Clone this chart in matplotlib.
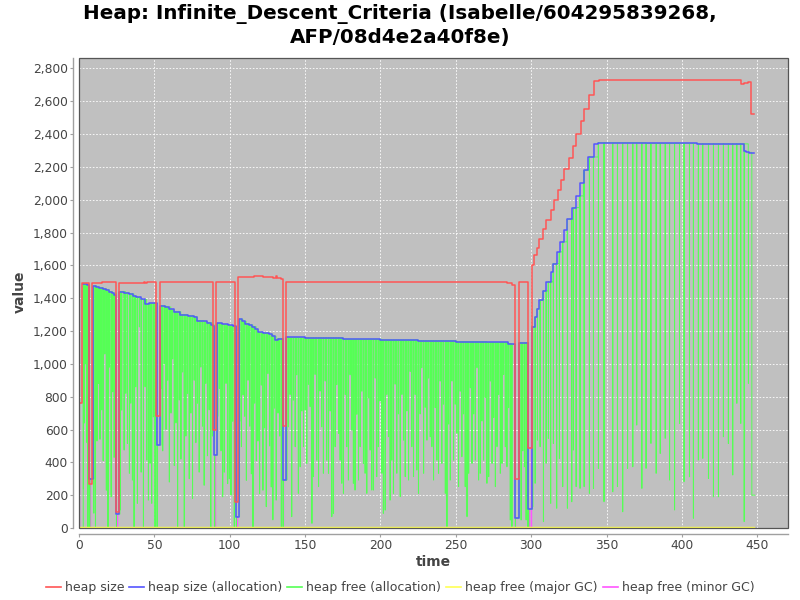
import numpy as np
import matplotlib
matplotlib.use("Agg")
import matplotlib.pyplot as plt
from matplotlib.ticker import FuncFormatter, MultipleLocator
from matplotlib.patches import Rectangle
from matplotlib.lines import Line2D

plt.rcParams['font.family'] = ['DejaVu Sans']

# ---------------- data ----------------
title = "Heap: Infinite_Descent_Criteria (Isabelle/604295839268,\nAFP/08d4e2a40f8e)"
labels = ["heap size", "heap size (allocation)", "heap free (allocation)",
          "heap free (major GC)", "heap free (minor GC)"]
colors = ["#ff5555", "#5555ff", "#55ff55", "#ffff55", "#ff55ff"]

# heap size (step series)
heap_t = [0.3, 2.2, 4.0, 6.9, 8.9, 15.0, 24.4, 26.5, 43.0, 44.0, 45.0, 51.2, 53.6, 66.0, 67.0,
          89.2, 91.0, 103.8, 105.8, 110.0, 116.0, 122.0, 126.0, 129.0, 130.5, 131.5, 134.0,
          135.3, 137.4, 282.0, 284.0, 287.6, 289.3, 291.6, 298.2, 300.4, 302.0, 304.0, 305.5,
          308.0, 310.0, 313.0, 315.0, 318.0, 319.5, 322.0, 325.0, 328.0, 330.0, 333.0, 335.0,
          338.5, 341.5, 345.0, 439.3, 441.5, 444.0, 445.8, 448.0]
heap_v = [760, 1490, 1493, 270, 1495, 1497, 100, 1495, 1500, 1492, 1498, 680, 1500, 1496, 1500,
          600, 1500, 160, 1528, 1532, 1535, 1532, 1527, 1522, 1535, 1520, 1515,
          620, 1500, 1499, 1490, 1478, 300, 1500, 487, 1601, 1661, 1706, 1763,
          1820, 1875, 1936, 1996, 2057, 2122, 2189, 2256, 2327, 2402, 2479, 2554,
          2635, 2721, 2727, 2707, 2711, 2718, 2524, 2524]

# heap size (allocation) (step series)
alloc_t = [2.4, 4.0, 5.5, 6.9, 9.2, 11.0, 13.0, 16.0, 18.0, 20.0, 22.0, 23.5, 24.6, 26.6, 30.0,
           33.0, 35.5, 38.0, 41.0, 44.0, 46.5, 51.6, 53.8, 57.0, 60.0, 63.0, 67.0, 72.0, 76.0,
           78.0, 82.0, 85.0, 87.5, 89.0, 89.8, 91.4, 95.0, 99.0, 102.0, 104.2, 105.9, 108.0,
           110.0, 112.5, 115.0, 117.0, 118.5, 122.0, 126.0, 128.0, 130.0, 132.0, 135.2, 137.3,
           150.0, 175.0, 200.0, 225.0, 250.0, 270.0, 284.5, 287.0, 289.3, 291.6, 298.1, 300.4,
           302.5, 304.0, 305.5, 308.0, 310.0, 313.0, 314.5, 317.0, 319.0, 321.5, 324.0, 327.0,
           330.0, 332.5, 335.0, 338.0, 341.5, 344.5, 375.0, 410.0, 441.5, 442.5, 444.5, 448.0]
alloc_v = [1489, 1486, 1480, 300, 1474, 1468, 1463, 1458, 1450, 1440, 1430, 1422, 85, 1440, 1433,
           1426, 1412, 1405, 1392, 1362, 1368, 505, 1353, 1346, 1331, 1318, 1300, 1292, 1286,
           1262, 1258, 1250, 1236, 1228, 444, 1248, 1240, 1234, 1228, 69, 1272, 1258,
           1245, 1237, 1226, 1212, 1192, 1187, 1180, 1168, 1148, 1152, 292, 1161,
           1158, 1150, 1145, 1140, 1135, 1131, 1122, 1118, 60, 1128, 115, 1225,
           1286, 1337, 1387, 1444, 1499, 1560, 1611, 1682, 1743, 1814, 1881, 1952,
           2023, 2102, 2179, 2260, 2337, 2347, 2343, 2340, 2294, 2288, 2284, 2284]

# heap free (allocation): times of the dips and their lowest values
free_t = [2.9, 3.6, 4.4, 5.2, 5.9, 7.1,
          9.8, 10.9, 11.9, 12.9, 13.9, 15.0, 16.0, 17.1, 18.1, 19.2, 20.2, 21.3, 22.3, 23.3, 24.8,
          27.2, 28.3, 29.9, 31.0, 32.1, 33.4, 34.3, 35.4, 36.5, 37.6, 38.7, 40.0, 41.2, 42.7,
          43.8, 44.9, 46.0, 47.1, 48.2, 49.3, 50.4, 51.8,
          54.5, 55.5, 56.6, 57.7, 58.8, 59.9, 61.0, 62.1, 63.2, 64.3, 65.4, 66.5, 67.6, 68.7,
          69.8, 70.9, 72.0, 73.1, 74.2, 75.3, 76.4, 77.5, 78.6, 79.7, 80.8, 81.9, 83.0, 84.1,
          85.2, 86.3, 87.4, 88.5, 90.0,
          92.0, 93.1, 94.2, 95.3, 96.4, 97.5, 98.6, 99.7, 100.8, 101.9, 103.0, 104.4,
          106.6, 107.7, 108.8, 109.9, 111.0, 112.1, 113.2, 114.3, 115.4, 116.5, 117.6, 118.7,
          119.8, 120.9, 122.0, 123.1, 124.2, 125.3, 126.4, 127.5, 128.6, 129.7, 130.8, 132.0,
          133.1, 134.2, 135.4,
          137.8, 138.9, 140.0, 141.1, 142.2, 143.4, 144.4, 145.5, 146.7, 147.8,
          148.9, 150.0, 151.1, 152.2, 153.3, 154.5, 155.5, 156.6, 157.7, 158.9,
          159.9, 161.0, 162.1, 163.3, 164.3, 165.5, 166.6, 167.7, 168.8, 169.9,
          171.0, 172.2, 173.2, 174.3, 175.4, 176.6, 177.6, 178.7, 179.8, 181.0,
          182.0, 183.1, 184.3, 185.4, 186.5, 187.6, 188.7, 189.8, 190.9, 192.1,
          193.1, 194.2, 195.3, 196.5, 197.5, 198.6, 199.7, 200.9, 201.9, 203.1,
          204.2, 205.3, 206.4,
          207.5, 208.6, 209.7, 210.8, 211.9, 213.1, 214.2, 215.3, 216.4, 217.5,
          218.6, 219.7, 220.8, 221.9, 223.0, 224.1, 225.2, 226.3, 227.4, 228.6,
          229.7, 230.8, 231.9, 233.0, 234.1, 235.2, 236.3, 237.4, 238.5, 239.6,
          240.7, 241.8, 243.0, 244.1, 245.2, 246.3, 247.4, 248.5, 249.6, 250.7,
          251.8, 252.9, 254.0, 255.1, 256.2, 257.4, 258.5, 259.6, 260.7, 261.8,
          262.9, 264.0, 265.1, 266.2, 267.3, 268.4, 269.5, 270.6, 271.8, 272.9,
          274.0, 275.1, 276.2, 277.3, 278.4, 279.5, 280.6, 281.7, 282.8, 283.9,
          285.0, 286.1, 287.2, 289.5,
          292.0, 293.3, 294.4, 295.5, 296.6, 297.7, 298.3,
          301.0, 302.6, 304.1, 305.9, 308.1, 309.9, 311.4, 312.9, 314.7, 316.9, 318.7,
          320.9, 324.0, 326.9, 328.0, 329.8, 332.4, 335.1, 338.6, 341.3, 344.6,
          348.3, 354.1, 357.2, 360.7, 363.9, 367.4, 370.0, 373.4, 376.2, 379.4, 382.9,
          385.6, 388.9, 391.8, 395.1, 398.4, 401.4, 405.0, 407.6, 410.9, 413.8, 417.6,
          420.9, 424.2, 427.5, 430.8, 433.7, 436.4, 439.0, 441.3, 444.1, 446.4]
free_low = [240, 640, 1000, 520, 0, 0,
            90, 0, 530, 880, 540, 720, 410, 1060, 230, 0, 980, 190, 830, 430, 0,
            110, 718, 475, 820, 515, 333, 760, 292, 0, 860, 150, 1225, 340, 0,
            860, 414, 170, 394, 150, 677, 0, 0,
            850, 470, 1000, 600, 900, 280, 700, 1030, 380, 640, 0, 780, 420, 950,
            0, 560, 820, 300, 700, 180, 900, 520, 760, 340, 980, 620, 260, 880,
            440, 720, 0, 560, 0,
            680, 850, 470, 190, 340, 880, 270, 300, 200, 650, 0, 0,
            650, 495, 810, 680, 290, 900, 620, 330, 0, 760, 410, 530,
            210, 870, 230, 610, 130, 940, 500, 250, 50, 730, 170, 700,
            560, 0, 0,
            292, 616, 813, 69, 779, 495, 933, 211, 373, 713,
            495, 718, 393, 875, 739, 28, 313, 935, 413, 252,
            834, 616, 333, 895, 413, 333, 713, 69, 89, 495,
            873, 576, 413, 272, 211, 813, 495, 292, 933, 596,
            272, 231, 692, 292, 495, 833, 393, 333, 211, 792,
            475, 231, 231, 913, 313, 495, 773, 333, 89, 109,
            813, 556, 170,
            413, 211, 876, 333, 695, 191, 813, 535, 313, 713,
            292, 953, 495, 313, 813, 353, 211, 695, 976, 333,
            735, 535, 913, 556, 495, 292, 733, 413, 333, 895,
            393, 754, 211, 8, 633, 292, 895, 413, 754, 576,
            252, 833, 434, 695, 252, 69, 333, 854, 393, 695,
            413, 976, 292, 333, 652, 413, 795, 272, 313, 895,
            393, 673, 252, 495, 813, 333, 393, 935, 495, 373,
            733, 49, 8, 0,
            454, 49, 470, 373, 49, 8, 0,
            130, 272, 535, 495, 39, 394, 546, 150, 515, 120, 424,
            252, 120, 160, 475, 252, 241, 252, 211, 241, 363,
            160, 221, 252, 99, 363, 373, 627, 241, 363, 515, 333,
            454, 546, 292, 110, 637, 282, 312, 59, 414, 424, 302,
            190, 190, 556, 515, 323, 759, 637, 39, 881, 200]
free_start = (1.8, 0)
free_end = (448.3, 200)

# heap free (major GC)
major_t = [0.0, 448.0]
major_v = [7, 7]

# heap free (minor GC): short marks at the collapses
minor_t = [0.2, 0.2, np.nan, 7.0, 7.0, np.nan, 25.0, 25.0, np.nan, 90.2, 90.2, np.nan,
           104.5, 104.5, np.nan, 135.5, 135.5, np.nan, 289.5, 289.5, np.nan,
           298.5, 298.5, np.nan, 300.2, 300.2]
minor_v = [0, 640, np.nan, 0, 300, np.nan, 0, 90, np.nan, 0, 444, np.nan,
           0, 70, np.nan, 0, 290, np.nan, 0, 60, np.nan,
           0, 120, np.nan, 0, 1000]

# ---------------- figure ----------------
fig = plt.figure(figsize=(8, 6), dpi=100)
ax = fig.add_axes([79 / 800, 72 / 600, 709 / 800, 470 / 600])
ax.set_facecolor("#c0c0c0")
ax.set_xlim(0, 470.4)
ax.set_ylim(0, 2863)

alloc_t_a = np.array(alloc_t)
alloc_v_a = np.array(alloc_v)


def alloc_at(t):
    i = np.searchsorted(alloc_t_a, t, side="right") - 1
    return alloc_v_a[max(i, 0)]


gx = [free_start[0]]
gy = [free_start[1]]
for t, lo in zip(free_t, free_low):
    top = alloc_at(t)
    gx += [t - 0.08, t, t + 0.08]
    gy += [top, lo, top]
gx[-1] = free_end[0]
gy[-1] = free_end[1]

ax.plot(minor_t, minor_v, color=colors[4], lw=1.0, zorder=2)
ax.plot(gx, gy, color=colors[2], lw=0.7, drawstyle="steps-post", zorder=3)
ax.plot(major_t, major_v, color=colors[3], lw=1.0, zorder=3.5)
ax.plot(alloc_t, alloc_v, color=colors[1], lw=1.1, drawstyle="steps-post", zorder=4)
ax.plot(heap_t, heap_v, color=colors[0], lw=1.1, drawstyle="steps-post", zorder=5)

# grid
ax.xaxis.set_major_locator(MultipleLocator(50))
ax.yaxis.set_major_locator(MultipleLocator(200))
ax.grid(True, color="white", lw=0.6, ls=(0, (2, 2)), zorder=1)
ax.set_axisbelow(True)
ax.yaxis.set_major_formatter(FuncFormatter(lambda v, p: f"{int(v):,}"))

for s in ["top", "right"]:
    ax.spines[s].set_visible(False)
for s in ["left", "bottom"]:
    ax.spines[s].set_position(("outward", 4))
    ax.spines[s].set_color("#a0a0a0")
    ax.spines[s].set_linewidth(1.0)
ax.add_patch(Rectangle((0, 0), 1, 1, transform=ax.transAxes, fill=False,
                       edgecolor="#555555", lw=0.9, clip_on=False, zorder=10))
ax.tick_params(axis="both", length=2, width=0.8, color="#a0a0a0",
               labelsize=8.8, labelcolor="#444444", pad=2)

fig.text(0.5, 1 - 4 / 600, title, ha="center", va="top", fontsize=14.3,
         fontweight="bold", color="black", linespacing=1.25)
fig.text(433 / 800, 1 - 562 / 600, "time", ha="center", va="center",
         fontsize=10, fontweight="bold", color="#444444")
fig.text(20 / 800, 1 - 292 / 600, "value", ha="center", va="center", rotation=90,
         fontsize=10, fontweight="bold", color="#444444")

handles = [Line2D([0], [0], color=c, lw=1.2) for c in colors]
fig.legend(handles, labels, loc="center", bbox_to_anchor=(0.5, 1 - 588 / 600), ncol=5,
           frameon=False, fontsize=9, handlelength=1.2, handletextpad=0.32,
           columnspacing=0.4, labelcolor="#444444")

fig.savefig("out.png", dpi=100)
